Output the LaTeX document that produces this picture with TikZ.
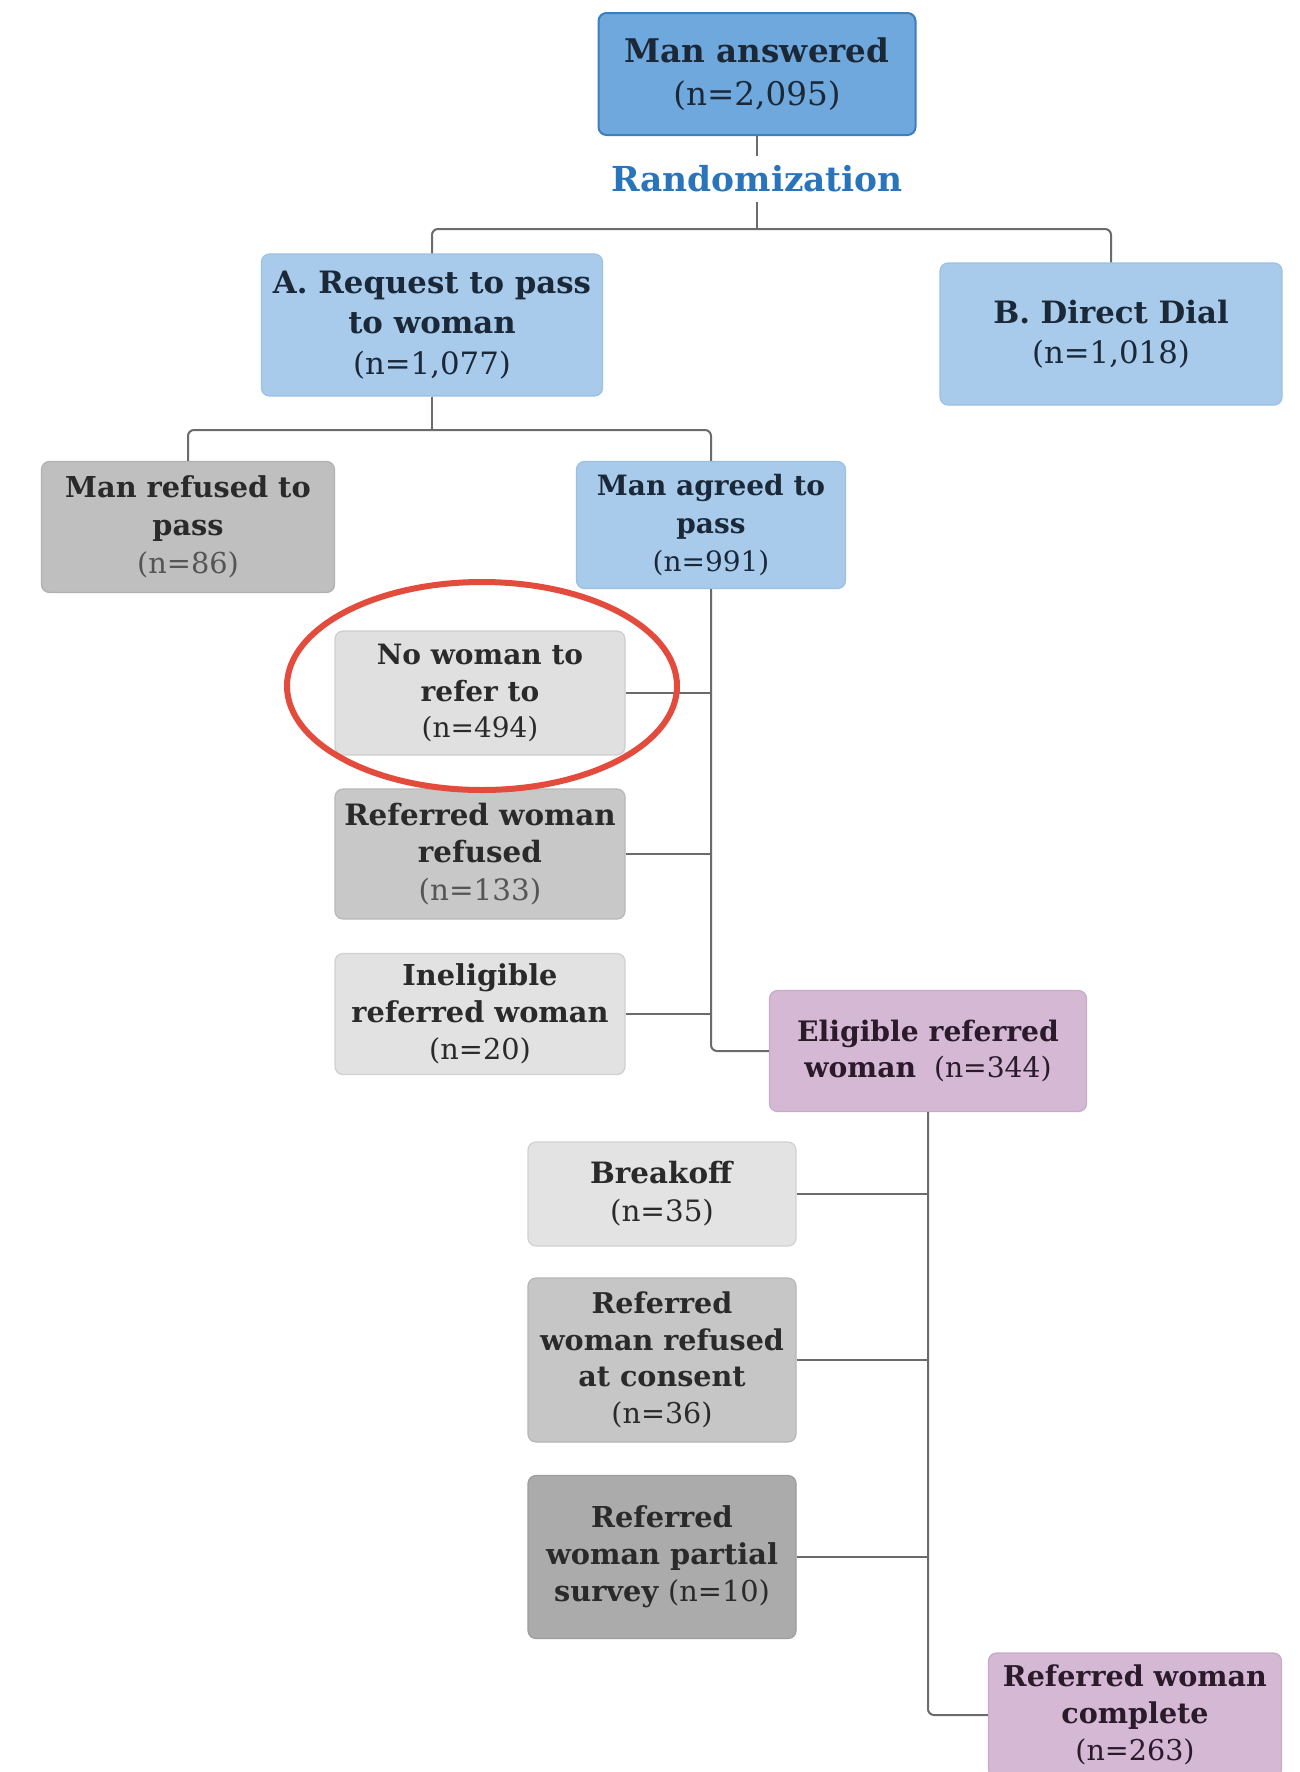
\documentclass[tikz,border=0pt]{standalone}
\usepackage{fontspec}
\setmainfont{DejaVu Serif}
\usetikzlibrary{shapes.geometric}

\definecolor{inkblue}{HTML}{1B2838}
\definecolor{inkgrey}{HTML}{2A2A2A}
\definecolor{softgrey}{HTML}{555555}
\definecolor{inkplum}{HTML}{2A1A2A}
\definecolor{topfill}{HTML}{6FA8DC}
\definecolor{topedge}{HTML}{3D7EBF}
\definecolor{bluefill}{HTML}{A9CBEB}
\definecolor{blueedge}{HTML}{9CC0E3}
\definecolor{plumfill}{HTML}{D4B8D4}
\definecolor{plumedge}{HTML}{C8AAC8}
\definecolor{linegrey}{HTML}{6B6B6B}
\definecolor{randblue}{HTML}{2A74BB}
\definecolor{markred}{HTML}{E34B3C}
\definecolor{greyA}{HTML}{BFBFBF}
\definecolor{greyB}{HTML}{E0E0E0}
\definecolor{greyC}{HTML}{C8C8C8}
\definecolor{greyD}{HTML}{E2E2E2}
\definecolor{greyE}{HTML}{E3E3E3}
\definecolor{greyF}{HTML}{C6C6C6}
\definecolor{greyG}{HTML}{ABABAB}

\newcommand{\px}{0.5pt}

\tikzset{
  x=0.5pt, y=-0.5pt,
  fs/.style 2 args={font=\fontsize{#1}{#2}\selectfont},
  base/.style={rounded corners=4pt, align=center, inner sep=0pt,
    fs={14.4}{18.5}, line width=0.6pt},
  topbox/.style={base, fill=topfill, draw=topedge, line width=1pt, text=inkblue},
  bluebox/.style={base, fill=bluefill, draw=blueedge, text=inkblue},
  greybox/.style={base, fill=#1, draw=#1!92!black, text=inkgrey},
  plumbox/.style={base, fill=plumfill, draw=plumedge, text=inkplum},
  link/.style={draw=linegrey, line width=1pt, rounded corners=3pt}
}

\begin{document}
\begin{tikzpicture}
\useasboundingbox (0,0) rectangle (1300,1772);
\clip (0,0) rectangle (1300,1772);
\fill[white] (0,0) rectangle (1300,1772);

% top of the tree
\node[topbox, fs={16.3}{21.5}, minimum width=317*\px, minimum height=122*\px] (ma) at (757,74)
  {\textbf{Man answered}\\(n=2,095)};
\node[font=\fontsize{17.2}{20}\selectfont\bfseries, text=randblue,
  inner sep=0pt, minimum height=46*\px] (rand) at (757,179) {Randomization};

% the two arms
\node[bluebox, fs={15.4}{20.3}, minimum width=341*\px, minimum height=142*\px] (armA) at (432,325)
  {\textbf{A. Request to pass}\\\textbf{to woman}\\(n=1,077)};
\node[bluebox, fs={15.4}{20.3}, minimum width=342*\px, minimum height=142*\px] (armB) at (1111,334)
  {\textbf{B. Direct Dial}\\(n=1,018)};

% arm A, first split
\node[greybox=greyA, fs={14.4}{19}, minimum width=293*\px, minimum height=131*\px] (refused) at (188,527)
  {\textbf{Man refused to}\\\textbf{pass}\\{\color{softgrey}(n=86)}};
\node[bluebox, fs={14}{19}, minimum width=269*\px, minimum height=127*\px] (agreed) at (711,525)
  {\textbf{Man agreed to}\\\textbf{pass}\\(n=991)};

% outcomes after the man agreed
\node[greybox=greyB, fs={14}{18.4}, minimum width=290*\px, minimum height=124*\px] (nowoman) at (480,693)
  {\textbf{No woman to}\\\textbf{refer to}\\(n=494)};
\node[greybox=greyC, fs={14.7}{18.6}, minimum width=290*\px, minimum height=130*\px] (wrefused) at (480,854)
  {\textbf{Referred woman}\\\textbf{refused}\\{\color{softgrey}(n=133)}};
\node[greybox=greyD, minimum width=290*\px, minimum height=121*\px] (inelig) at (480,1014)
  {\textbf{Ineligible}\\\textbf{referred woman}\\(n=20)};
\node[plumbox, fs={14.1}{18.2}, minimum width=317*\px, minimum height=121*\px] (elig) at (928,1051)
  {\textbf{Eligible referred}\\\textbf{woman}\ \ (n=344)};

% outcomes for eligible women
\node[greybox=greyE, fs={14.7}{19}, minimum width=268*\px, minimum height=104*\px] (breakoff) at (662,1194)
  {\textbf{Breakoff}\\(n=35)};
\node[greybox=greyF, fs={14.3}{18.3}, minimum width=268*\px, minimum height=164*\px] (consent) at (662,1360)
  {\textbf{Referred}\\\textbf{woman refused}\\\textbf{at consent}\\(n=36)};
\node[greybox=greyG, minimum width=268*\px, minimum height=163*\px] (partial) at (662,1557)
  {\textbf{Referred}\\\textbf{woman partial}\\\textbf{survey} (n=10)};
\node[plumbox, fs={14.3}{18.4}, minimum width=293*\px, minimum height=124*\px] (complete) at (1135,1715)
  {\textbf{Referred woman}\\\textbf{complete}\\(n=263)};

% connectors
\coordinate (splitAB) at (757,229);
\coordinate (splitA) at (432,430);
\draw[link] (ma.south) -- (rand.north);
\draw[link] (rand.south) -- (splitAB);
\draw[link] (armA.north) |- (splitAB) -| (armB.north);
\draw[link] (armA.south) -- (splitA);
\draw[link] (refused.north) |- (splitA) -| (agreed.north);

\draw[link] (agreed.south) |- (elig.west);
\draw[link] (nowoman.east) -- (nowoman.east -| agreed.south);
\draw[link] (wrefused.east) -- (wrefused.east -| agreed.south);
\draw[link] (inelig.east) -- (inelig.east -| agreed.south);

\draw[link] (elig.south) |- (complete.west);
\draw[link] (breakoff.east) -- (breakoff.east -| elig.south);
\draw[link] (consent.east) -- (consent.east -| elig.south);
\draw[link] (partial.east) -- (partial.east -| elig.south);

% highlight ring
\draw[markred, line width=3pt] (482,686) ellipse [x radius=195, y radius=104];
\end{tikzpicture}
\end{document}
